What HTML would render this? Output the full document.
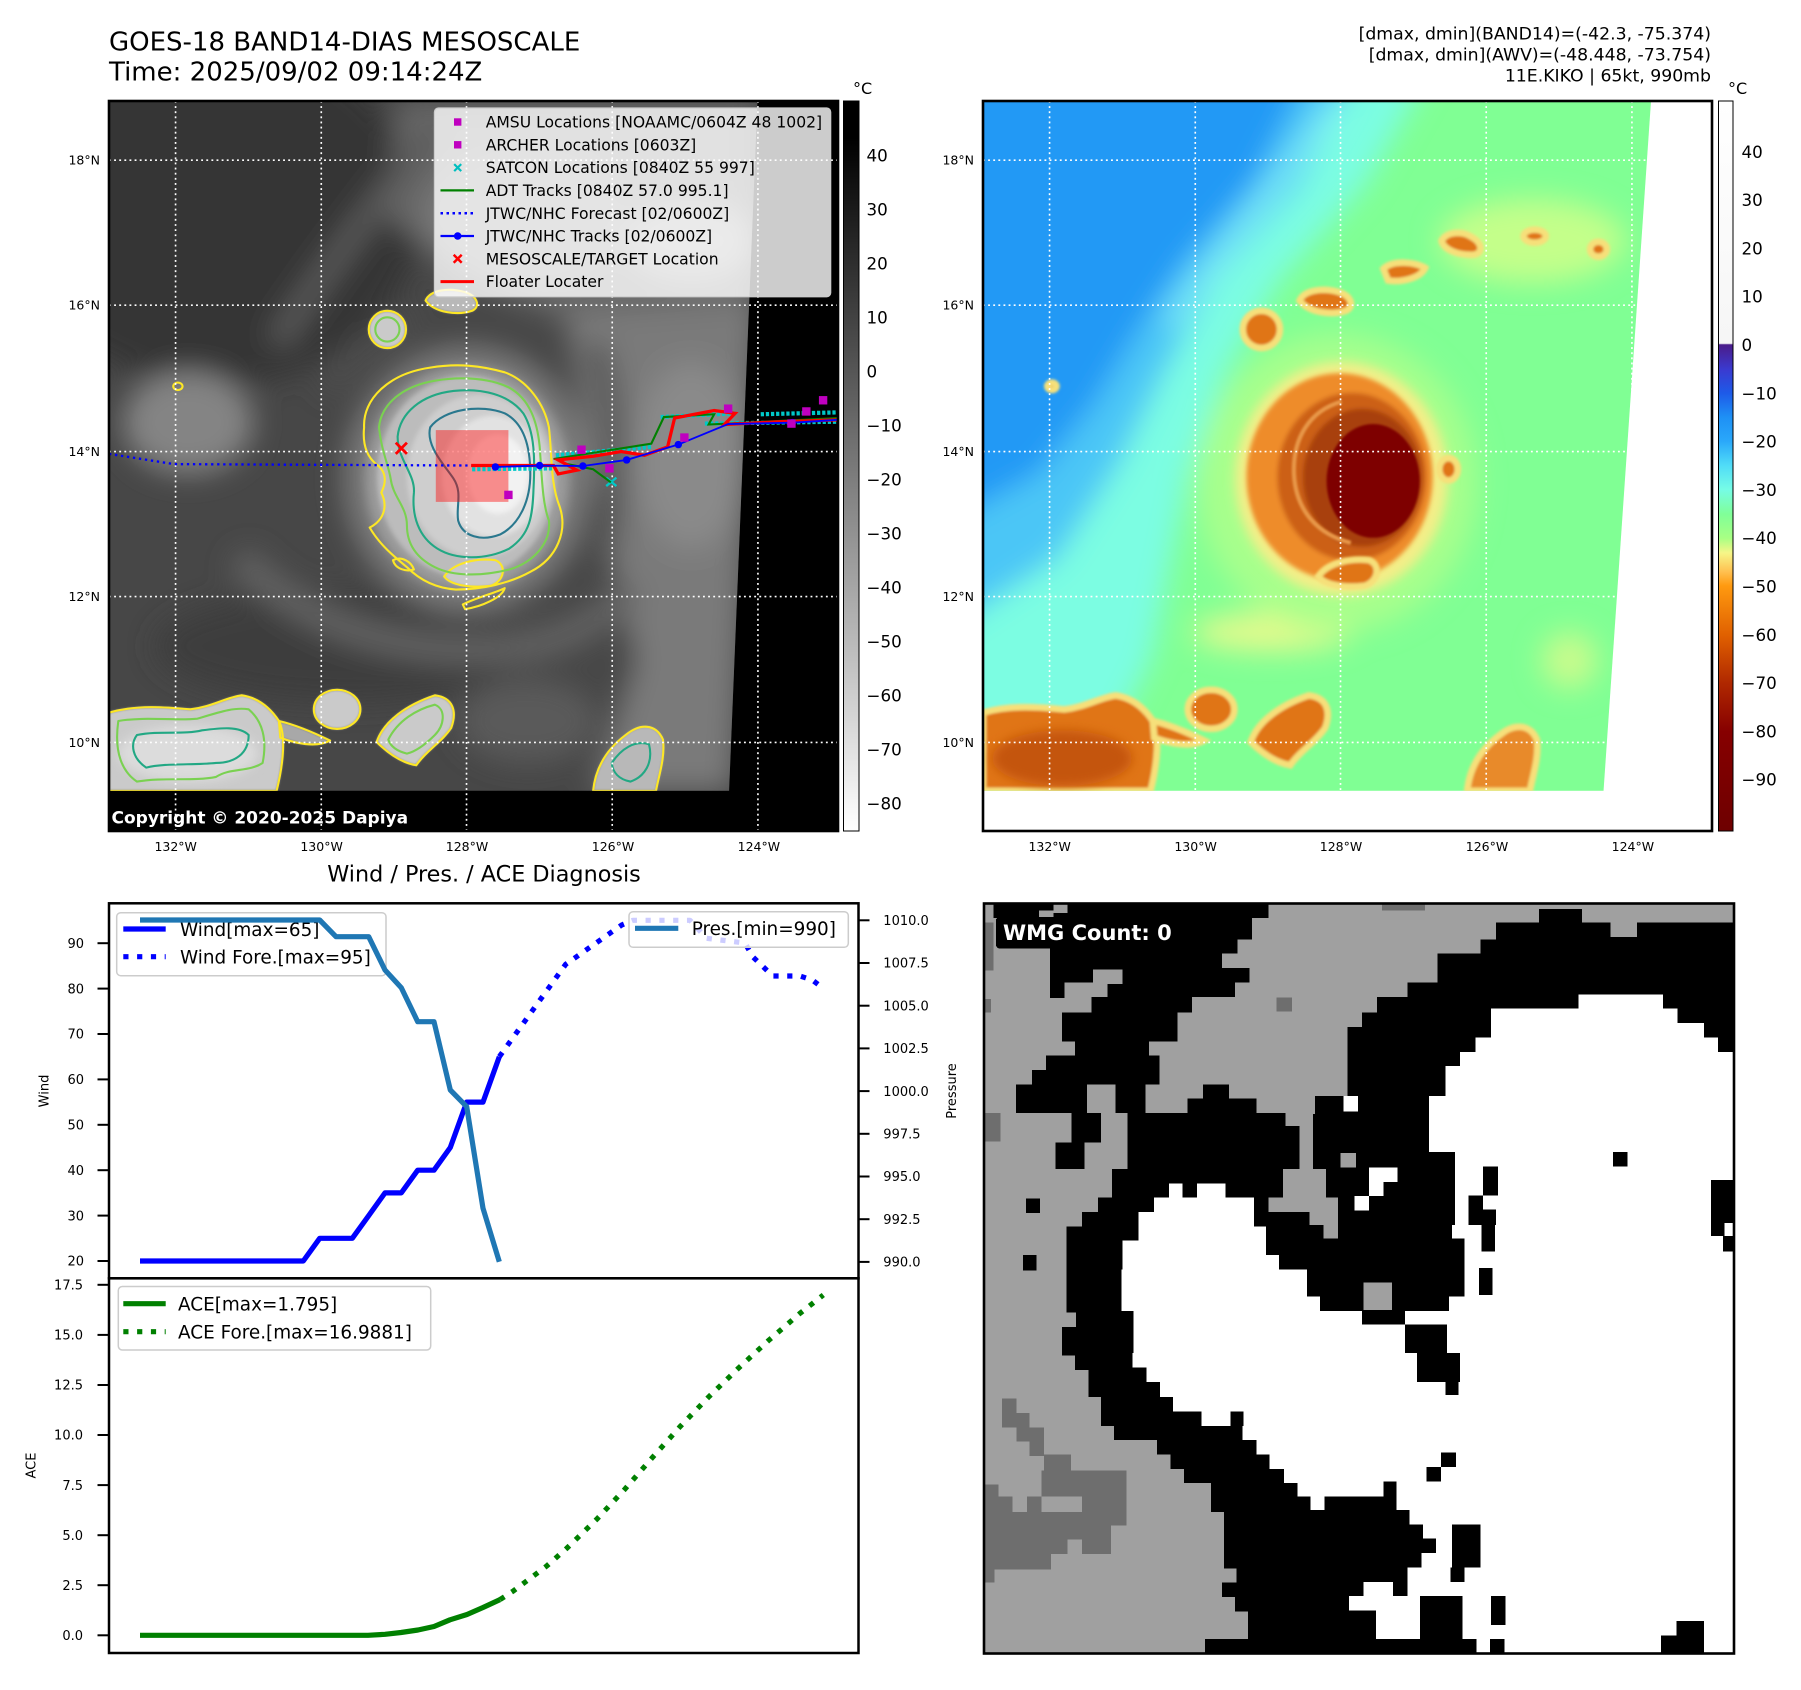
<!DOCTYPE html>
<html><head><meta charset="utf-8">
<style>
html,body{margin:0;padding:0;background:#fff;}
svg{display:block;}
text{font-family:"DejaVu Sans","Liberation Sans",sans-serif;}
</style></head><body>
<svg width="1801" height="1690" viewBox="0 0 1801 1690" xmlns="http://www.w3.org/2000/svg" xmlns:xlink="http://www.w3.org/1999/xlink">
<defs>
<filter id="f30" x="-30%" y="-30%" width="160%" height="160%"><feGaussianBlur stdDeviation="30"/></filter>
<filter id="f12" x="-30%" y="-30%" width="160%" height="160%"><feGaussianBlur stdDeviation="12"/></filter>
<filter id="f5" x="-30%" y="-30%" width="160%" height="160%"><feGaussianBlur stdDeviation="5"/></filter>
<filter id="f3" x="-30%" y="-30%" width="160%" height="160%"><feGaussianBlur stdDeviation="3"/></filter>
<filter id="f2" x="-30%" y="-30%" width="160%" height="160%"><feGaussianBlur stdDeviation="2"/></filter>
<linearGradient id="gL" x1="0" y1="0" x2="0" y2="1">
<stop offset="0" stop-color="#000"/><stop offset="0.05" stop-color="#000"/><stop offset="1" stop-color="#fff"/>
</linearGradient>
<linearGradient id="gR" x1="0" y1="0" x2="0" y2="1">
<stop offset="0" stop-color="#ffffff"/><stop offset="0.332" stop-color="#f6f6f6"/>
<stop offset="0.334" stop-color="#4b1c8a"/><stop offset="0.368" stop-color="#3a3ad0"/>
<stop offset="0.40" stop-color="#1e5ae8"/><stop offset="0.433" stop-color="#1e90f5"/>
<stop offset="0.466" stop-color="#2aa8fa"/><stop offset="0.499" stop-color="#50dcf8"/>
<stop offset="0.532" stop-color="#76fce6"/><stop offset="0.566" stop-color="#80ff98"/>
<stop offset="0.599" stop-color="#a8ff84"/><stop offset="0.619" stop-color="#f6f688"/>
<stop offset="0.645" stop-color="#ffc050"/><stop offset="0.664" stop-color="#ff9a10"/>
<stop offset="0.732" stop-color="#e06000"/><stop offset="0.797" stop-color="#b02800"/>
<stop offset="0.864" stop-color="#860000"/><stop offset="1" stop-color="#6e0000"/>
</linearGradient>
<path id="k1" d="M 0,1312 C 60,1295 120,1300 175,1305 C 220,1300 250,1280 285,1275 C 320,1280 345,1300 365,1330 C 380,1360 375,1420 360,1480 L 0,1480 Z"/>
<path id="k2" d="M 365,1330 C 400,1338 440,1355 475,1372 C 445,1388 400,1378 368,1366 Z"/>
<path id="k3" d="M 440,1305 A 50,42 0 1 0 540,1305 A 50,42 0 1 0 440,1305 Z"/>
<path id="k4" d="M 575,1375 C 590,1330 640,1295 700,1275 C 740,1280 748,1310 735,1345 C 715,1375 680,1395 660,1425 C 630,1420 600,1400 575,1375 Z"/>
<path id="k5" d="M 1040,1480 C 1045,1430 1070,1390 1110,1360 C 1140,1335 1175,1335 1190,1370 C 1195,1410 1180,1450 1175,1480 Z"/>
<path id="k6" d="M 558,490 A 40,40 0 1 0 638,490 A 40,40 0 1 0 558,490 Z"/>
<path id="k7" d="M 680,428 C 690,405 730,400 765,410 C 790,418 800,440 780,450 C 750,460 700,455 680,428 Z"/>
<path id="k8" d="M 860,360 C 880,340 930,345 950,358 C 940,380 900,390 870,385 Z"/>
<path id="k9" d="M 985,300 C 995,280 1030,278 1050,292 C 1075,305 1075,330 1050,330 C 1020,330 990,320 985,300 Z"/>
<path id="k10" d="M 1161,290 A 24,14 0 1 0 1209,290 A 24,14 0 1 0 1161,290 Z"/>
<path id="k11" d="M 1304,318 A 18,16 0 1 0 1340,318 A 18,16 0 1 0 1304,318 Z"/>
<path id="k12" d="M 980,790 A 20,24 0 1 0 1020,790 A 20,24 0 1 0 980,790 Z"/>
<path id="k13" d="M 720,1020 C 740,990 790,980 830,985 C 855,995 850,1030 820,1040 C 780,1045 735,1040 720,1020 Z"/>
<path id="k14" d="M 138,612 A 10,8 0 1 0 158,612 A 10,8 0 1 0 138,612 Z"/>
</defs>

<rect x="0" y="0" width="1801" height="1690" fill="#fff"/>

<!-- Titles -->
<text x="109" y="50.7" font-size="26" fill="#000">GOES-18 BAND14-DIAS MESOSCALE</text>
<text x="109" y="80.7" font-size="26" fill="#000">Time: 2025/09/02 09:14:24Z</text>
<g font-size="17.3" text-anchor="end" fill="#000">
<text x="1711" y="39.5">[dmax, dmin](BAND14)=(-42.3, -75.374)</text>
<text x="1711" y="60.5">[dmax, dmin](AWV)=(-48.448, -73.754)</text>
<text x="1711" y="81.5">11E.KIKO | 65kt, 990mb</text>
</g>
<text x="853" y="94" font-size="16" fill="#000">°C</text>
<text x="1728" y="94" font-size="16" fill="#000">°C</text>

<!-- LEFT MAP -->
<svg x="109" y="101" width="729" height="730" viewBox="0 0 1566 1566" preserveAspectRatio="none">
<defs><clipPath id="cL"><polygon points="0,0 1393,0 1332,1480 0,1480"/></clipPath></defs>
<rect width="1566" height="1566" fill="#000"/>
<g clip-path="url(#cL)">
<rect width="1566" height="1566" fill="#474747"/>
<g filter="url(#f30)">
<ellipse cx="230" cy="240" rx="440" ry="370" fill="#343434"/>
<polygon points="620,0 1393,0 1393,470 1000,480 780,390 600,250" fill="#686868"/>
<ellipse cx="900" cy="250" rx="220" ry="150" fill="#7a7a7a"/>
<ellipse cx="1250" cy="300" rx="140" ry="80" fill="#9a9a9a"/>
<ellipse cx="170" cy="690" rx="140" ry="110" fill="#848484"/>
<polygon points="980,460 1393,430 1340,1480 1040,1480 1130,1200 1070,950" fill="#7a7a7a"/>
<ellipse cx="1250" cy="760" rx="120" ry="200" fill="#8a8a8a"/>
<ellipse cx="500" cy="1170" rx="400" ry="120" fill="#3c3c3c"/>
<ellipse cx="770" cy="810" rx="265" ry="285" fill="#7c7c7c"/>
<path d="M 360,520 C 450,380 560,240 700,60" stroke="#5a5a5a" stroke-width="50" fill="none"/>
<path d="M 280,980 C 420,1130 650,1200 900,1170 C 1000,1150 1080,1100 1120,1040" stroke="#646464" stroke-width="60" fill="none"/>
<ellipse cx="900" cy="1330" rx="150" ry="90" fill="#5a5a5a"/>
<path d="M 1040,520 C 1090,650 1100,820 1060,980" stroke="#555" stroke-width="50" fill="none"/>
<path d="M 470,620 C 520,540 580,500 650,470" stroke="#505050" stroke-width="40" fill="none"/>
</g>
<g filter="url(#f12)"><ellipse cx="770" cy="810" rx="218" ry="240" fill="#9c9c9c"/></g>
<g filter="url(#f5)">
<ellipse cx="768" cy="806" rx="192" ry="216" fill="#bcbcbc"/>
<ellipse cx="795" cy="805" rx="155" ry="175" fill="#cecece"/>
<ellipse cx="825" cy="805" rx="110" ry="130" fill="#e2e2e2"/>
<ellipse cx="835" cy="800" rx="65" ry="85" fill="#f2f2f2"/>
</g>
<g filter="url(#f3)" fill="#cacaca">
<use xlink:href="#k1"/><use xlink:href="#k2" fill="#a8a8a8"/><use xlink:href="#k3"/><use xlink:href="#k4"/><use xlink:href="#k5" fill="#b8b8b8"/>
<use xlink:href="#k6"/><use xlink:href="#k7" fill="#b8b8b8"/><use xlink:href="#k13"/>
</g>
<g filter="url(#f12)"><ellipse cx="170" cy="1400" rx="150" ry="60" fill="#dcdcdc"/></g>
<!-- contours -->
<g fill="none" stroke-width="4.5" stroke-linejoin="round">
<g stroke="#fde725">
<path d="M 548,700 C 545,640 600,585 690,572 C 750,562 800,568 850,582 C 900,600 935,650 945,700 C 952,760 948,820 968,870 C 985,920 965,980 905,1010 C 860,1035 800,1048 745,1048 C 700,1045 665,1025 640,1000 C 610,975 580,950 560,915 C 590,900 600,870 585,840 C 600,810 590,790 575,780 C 550,760 545,730 548,700 Z"/>
<use xlink:href="#k1"/><use xlink:href="#k2"/><use xlink:href="#k3"/><use xlink:href="#k4"/><use xlink:href="#k5"/>
<use xlink:href="#k6"/><use xlink:href="#k7"/><use xlink:href="#k13"/><use xlink:href="#k14"/>
<path d="M 610,985 C 630,975 650,990 655,1005 C 640,1010 615,1005 610,985 Z"/>
<path d="M 760,1080 C 790,1065 830,1055 850,1045 C 845,1065 800,1085 765,1090 Z"/>
</g>
<g stroke="#7ad151">
<path d="M 580,700 C 585,650 630,612 700,600 C 760,590 820,595 860,615 C 905,640 920,690 925,740 C 930,800 930,860 945,900 C 950,950 910,990 860,1005 C 800,1020 740,1020 700,1000 C 660,980 640,950 640,910 C 640,870 610,850 605,810 C 600,780 585,750 580,700 Z"/>
<path d="M 20,1330 C 80,1320 140,1330 190,1325 C 240,1310 270,1300 300,1305 C 330,1330 340,1370 330,1420 C 300,1440 260,1430 230,1450 C 180,1460 120,1450 60,1460 C 30,1440 10,1400 20,1330 Z"/>
<path d="M 572,490 A 26,26 0 1 0 624,490 A 26,26 0 1 0 572,490 Z"/>
<path d="M 600,1370 C 620,1330 660,1305 700,1295 C 725,1305 720,1340 700,1360 C 680,1380 660,1395 640,1400 C 620,1395 605,1385 600,1370 Z"/>
</g>
<g stroke="#22a884">
<path d="M 620,720 C 625,670 670,630 740,622 C 800,615 860,630 890,670 C 915,710 915,770 912,830 C 910,890 905,930 860,960 C 810,985 745,985 705,960 C 665,935 650,890 655,840 C 658,800 620,770 620,720 Z"/>
<path d="M 60,1360 C 110,1350 160,1360 200,1350 C 240,1345 280,1340 300,1360 C 300,1400 270,1420 230,1420 C 180,1425 120,1420 80,1430 C 50,1410 45,1380 60,1360 Z"/>
<path d="M 1080,1420 C 1100,1390 1130,1370 1160,1380 C 1170,1420 1150,1450 1120,1460 C 1095,1455 1082,1440 1080,1420 Z"/>
</g>
<g stroke="#2a788e">
<path d="M 690,700 C 720,660 800,650 850,670 C 890,690 905,740 905,800 C 905,860 880,910 840,930 C 800,945 760,935 750,900 C 745,870 760,840 740,810 C 720,780 680,740 690,700 Z"/>
</g>
</g>
</g>
<!-- grid -->
<g stroke="#fff" stroke-width="3.5" stroke-dasharray="4 7">
<line x1="143" y1="0" x2="143" y2="1566"/><line x1="456" y1="0" x2="456" y2="1566"/><line x1="768" y1="0" x2="768" y2="1566"/><line x1="1081" y1="0" x2="1081" y2="1566"/><line x1="1394" y1="0" x2="1394" y2="1566"/>
<line x1="0" y1="127" x2="1566" y2="127"/><line x1="0" y1="438" x2="1566" y2="438"/><line x1="0" y1="752" x2="1566" y2="752"/><line x1="0" y1="1063" x2="1566" y2="1063"/><line x1="0" y1="1376" x2="1566" y2="1376"/>
</g>
<!-- salmon target box -->
<rect x="702" y="706" width="156" height="154" fill="#ff0000" fill-opacity="0.42"/>
<!-- tracks -->
<path d="M 0,757 L 70,768 L 140,779 L 780,782" stroke="#0000ff" stroke-width="5" stroke-dasharray="5 8" fill="none"/>
<g stroke="#00c8c8" stroke-width="9" stroke-dasharray="7 4" fill="none">
<path d="M 780,790 L 960,788"/><path d="M 960,760 L 1165,742"/><path d="M 1185,678 L 1345,670"/><path d="M 1280,692 L 1566,688"/><path d="M 1400,672 L 1566,668"/>
</g>
<path d="M 1068,808 L 1090,826 M 1090,808 L 1068,826" stroke="#00c8c8" stroke-width="5"/>
<path d="M 955,768 L 1165,735 L 1192,678 L 1300,672 L 1288,694 L 1566,680" stroke="#008000" stroke-width="4.5" fill="none"/>
<path d="M 980,778 L 1040,790 L 1078,818" stroke="#008000" stroke-width="4.5" fill="none"/>
<path d="M 778,782 L 955,782 L 965,800 L 1005,792 L 965,770 L 1040,762 L 1100,752 L 1150,760 L 1200,742 L 1215,680 L 1300,664 L 1345,670 L 1322,694 L 1440,688 L 1566,684" stroke="#ff0000" stroke-width="7" fill="none" stroke-linejoin="miter"/>
<path d="M 830,785 L 925,782 L 1018,783 L 1112,770 L 1223,737 L 1330,693 L 1468,690 L 1566,684" stroke="#0000ff" stroke-width="4" fill="none"/>
<g fill="#0000ff"><circle cx="830" cy="785" r="8"/><circle cx="925" cy="782" r="8"/><circle cx="1018" cy="783" r="8"/><circle cx="1112" cy="770" r="8"/><circle cx="1223" cy="737" r="8"/><circle cx="1468" cy="690" r="8"/></g>
<g fill="#bf00bf">
<rect x="849" y="836" width="18" height="18"/><rect x="1006" y="739" width="18" height="18"/><rect x="1066" y="779" width="18" height="18"/><rect x="1227" y="713" width="18" height="18"/><rect x="1321" y="651" width="18" height="18"/><rect x="1457" y="683" width="18" height="18"/><rect x="1489" y="657" width="18" height="18"/><rect x="1525" y="633" width="18" height="18"/>
</g>
<path d="M 616,733 L 640,757 M 640,733 L 616,757" stroke="#ff0000" stroke-width="6"/>
</svg>
<rect x="109" y="101" width="729" height="730" fill="none" stroke="#000" stroke-width="2.6"/>

<!-- left legend -->
<rect x="434.4" y="108" width="396.3" height="188.8" rx="4" fill="#fff" fill-opacity="0.8" stroke="#cccccc" stroke-width="1.2"/>
<rect x="454" y="118.3" width="7.4" height="7.4" fill="#bf00bf"/>
<rect x="454" y="141.1" width="7.4" height="7.4" fill="#bf00bf"/>
<path d="M 454.2,164.1 L 461.2,171.1 M 461.2,164.1 L 454.2,171.1" stroke="#00bfbf" stroke-width="2.2"/>
<line x1="440.5" y1="190.4" x2="474" y2="190.4" stroke="#008000" stroke-width="2.2"/>
<line x1="440.5" y1="213.2" x2="474" y2="213.2" stroke="#0000ff" stroke-width="2.5" stroke-dasharray="2.5 3.5"/>
<line x1="440.5" y1="236" x2="474" y2="236" stroke="#0000ff" stroke-width="2.2"/>
<circle cx="457.7" cy="236" r="3.8" fill="#0000ff"/>
<path d="M 453.7,254.8 L 461.7,262.8 M 461.7,254.8 L 453.7,262.8" stroke="#ff0000" stroke-width="2.5"/>
<line x1="440.5" y1="281.6" x2="474" y2="281.6" stroke="#ff0000" stroke-width="3"/>
<g font-size="15.6" fill="#000">
<text x="485.7" y="127.6">AMSU Locations [NOAAMC/0604Z 48 1002]</text>
<text x="485.7" y="150.4">ARCHER Locations [0603Z]</text>
<text x="485.7" y="173.2">SATCON Locations [0840Z 55 997]</text>
<text x="485.7" y="196">ADT Tracks [0840Z 57.0 995.1]</text>
<text x="485.7" y="218.8">JTWC/NHC Forecast [02/0600Z]</text>
<text x="485.7" y="241.6">JTWC/NHC Tracks [02/0600Z]</text>
<text x="485.7" y="264.4">MESOSCALE/TARGET Location</text>
<text x="485.7" y="287.2">Floater Locater</text>
</g>
<text x="111.5" y="823.5" font-size="17" font-weight="bold" fill="#fff">Copyright © 2020-2025 Dapiya</text>

<!-- left colorbar -->
<rect x="843.5" y="101" width="15.5" height="730" fill="url(#gL)" stroke="#000" stroke-width="1"/>
<g font-size="16.7" fill="#000">
<text x="866.5" y="161.5">40</text><text x="866.5" y="215.5">30</text><text x="866.5" y="269.5">20</text><text x="866.5" y="323.5">10</text><text x="866.5" y="377.5">0</text>
<text x="866.5" y="431.5">−10</text><text x="866.5" y="485.5">−20</text><text x="866.5" y="539.5">−30</text><text x="866.5" y="593.5">−40</text><text x="866.5" y="647.5">−50</text><text x="866.5" y="701.5">−60</text><text x="866.5" y="755.5">−70</text><text x="866.5" y="809.5">−80</text>
</g>

<!-- RIGHT MAP -->
<svg x="983" y="101" width="729" height="730" viewBox="0 0 1566 1566" preserveAspectRatio="none">
<defs><clipPath id="cR"><polygon points="0,0 1435,0 1333,1480 0,1480"/></clipPath></defs>
<rect width="1566" height="1566" fill="#fff"/>
<g clip-path="url(#cR)">
<rect width="1566" height="1566" fill="#80ff94"/>
<g filter="url(#f30)">
<polygon points="-100,-100 980,-100 820,180 640,380 520,580 440,800 400,1000 360,1200 260,1400 -100,1560" fill="#7cfde2"/>
<polygon points="-100,-100 820,-100 680,180 500,380 390,580 290,780 160,980 -100,1150" fill="#4cc6f6"/>
<polygon points="-100,-100 720,-100 580,180 430,350 330,500 240,650 120,800 -100,920" fill="#2299f5"/>
<path d="M 760,0 C 640,180 500,330 400,480" stroke="#8cf4f8" stroke-width="40" fill="none" opacity="0.7"/>
<ellipse cx="1180" cy="300" rx="200" ry="90" fill="#c4ff8a"/>
<ellipse cx="620" cy="1140" rx="170" ry="40" fill="#e6fa8c"/>
<ellipse cx="1260" cy="1200" rx="60" ry="60" fill="#c8fc8c"/>
<ellipse cx="760" cy="820" rx="300" ry="320" fill="#a8ff8c"/>
</g>
<g filter="url(#f12)"><ellipse cx="770" cy="810" rx="228" ry="250" fill="#f4ee88"/></g>
<g filter="url(#f5)">
<ellipse cx="766" cy="806" rx="200" ry="222" fill="#ee8c2c"/>
<ellipse cx="792" cy="806" rx="160" ry="180" fill="#cc6018"/>
<ellipse cx="815" cy="808" rx="128" ry="148" fill="#a8400e"/>
</g>
<g filter="url(#f2)"><ellipse cx="838" cy="815" rx="100" ry="122" fill="#7e0000"/></g>
<path d="M 770,645 C 700,665 665,725 668,800 C 672,880 720,930 790,948" stroke="#e89848" stroke-width="9" fill="none" filter="url(#f2)"/>
<g filter="url(#f3)" fill="#e07414" stroke="#f6e07a" stroke-width="14">
<use xlink:href="#k1"/><use xlink:href="#k2"/><use xlink:href="#k3"/><use xlink:href="#k4"/><use xlink:href="#k5" fill="#e88a2a"/>
<use xlink:href="#k6"/><use xlink:href="#k7"/><use xlink:href="#k8"/><use xlink:href="#k9"/><use xlink:href="#k10"/><use xlink:href="#k11"/><use xlink:href="#k12"/><use xlink:href="#k13"/><use xlink:href="#k14"/>
</g>
<g filter="url(#f12)"><ellipse cx="170" cy="1410" rx="150" ry="60" fill="#c45410"/></g>
</g>
<g stroke="#fff" stroke-width="3.5" stroke-dasharray="4 7">
<line x1="143" y1="0" x2="143" y2="1566"/><line x1="456" y1="0" x2="456" y2="1566"/><line x1="768" y1="0" x2="768" y2="1566"/><line x1="1081" y1="0" x2="1081" y2="1566"/><line x1="1394" y1="0" x2="1394" y2="1566"/>
<line x1="0" y1="127" x2="1566" y2="127"/><line x1="0" y1="438" x2="1566" y2="438"/><line x1="0" y1="752" x2="1566" y2="752"/><line x1="0" y1="1063" x2="1566" y2="1063"/><line x1="0" y1="1376" x2="1566" y2="1376"/>
</g>
</svg>
<rect x="983" y="101" width="729" height="730" fill="none" stroke="#000" stroke-width="2.6"/>

<!-- right colorbar -->
<rect x="1718.5" y="101" width="14.5" height="730" fill="url(#gR)" stroke="#000" stroke-width="1"/>
<g font-size="16.7" fill="#000">
<text x="1741.5" y="157.8">40</text><text x="1741.5" y="206.1">30</text><text x="1741.5" y="254.4">20</text><text x="1741.5" y="302.7">10</text><text x="1741.5" y="351">0</text>
<text x="1741.5" y="399.3">−10</text><text x="1741.5" y="447.6">−20</text><text x="1741.5" y="495.9">−30</text><text x="1741.5" y="544.2">−40</text><text x="1741.5" y="592.5">−50</text><text x="1741.5" y="640.8">−60</text><text x="1741.5" y="689.1">−70</text><text x="1741.5" y="737.4">−80</text><text x="1741.5" y="785.7">−90</text>
</g>

<!-- map tick labels -->
<g font-size="12.5" fill="#000" text-anchor="end">
<text x="100" y="164.7">18°N</text><text x="100" y="309.7">16°N</text><text x="100" y="456.1">14°N</text><text x="100" y="601.1">12°N</text><text x="100" y="747">10°N</text>
<text x="974" y="164.7">18°N</text><text x="974" y="309.7">16°N</text><text x="974" y="456.1">14°N</text><text x="974" y="601.1">12°N</text><text x="974" y="747">10°N</text>
</g>
<g font-size="12.5" fill="#000" text-anchor="middle">
<text x="175.7" y="851">132°W</text><text x="321.6" y="851">130°W</text><text x="467" y="851">128°W</text><text x="613" y="851">126°W</text><text x="758.9" y="851">124°W</text>
<text x="1049.7" y="851">132°W</text><text x="1195.6" y="851">130°W</text><text x="1341" y="851">128°W</text><text x="1487" y="851">126°W</text><text x="1632.9" y="851">124°W</text>
</g>

<!-- WIND / PRES / ACE -->
<text x="484" y="881.5" font-size="22.3" text-anchor="middle" fill="#000">Wind / Pres. / ACE Diagnosis</text>

<!-- wind lines -->
<polyline points="140,1261 303.3,1261 319.7,1238.3 352.3,1238.3 368.7,1215.6 385,1192.9 401.3,1192.9 417.7,1170.2 434,1170.2 450.3,1147.5 466.7,1102.1 483,1102.1 499.3,1056.7" fill="none" stroke="#0000ff" stroke-width="5.2" stroke-linejoin="round"/>
<polyline points="499.3,1056.7 565.7,964.3 621.7,925 633,920.3 690,920.3 706.7,938.3 745,943 752.7,956.7 772.7,976 800,976 812.3,980 823.3,988.3" fill="none" stroke="#0000ff" stroke-width="5.2" stroke-dasharray="5.2 8.6" stroke-linejoin="round"/>
<!-- wind legend -->
<rect x="116.7" y="912.7" width="269.3" height="63" rx="4" fill="#fff" fill-opacity="0.8" stroke="#cccccc" stroke-width="1.5"/>
<line x1="123.3" y1="929" x2="165.7" y2="929" stroke="#0000ff" stroke-width="5.2"/>
<line x1="123.3" y1="956.7" x2="165.7" y2="956.7" stroke="#0000ff" stroke-width="5.2" stroke-dasharray="5.2 8.6"/>
<text x="180" y="935.8" font-size="18.4" fill="#000">Wind[max=65]</text>
<text x="180" y="963.5" font-size="18.4" fill="#000">Wind Fore.[max=95]</text>
<!-- pressure line -->
<polyline points="140,920 319.7,920 336,936.7 368.7,936.7 385,970 401.3,987.7 417.7,1021.7 434,1021.7 450.3,1090 466.7,1106.7 483,1208.3 499.3,1261.7" fill="none" stroke="#1f77b4" stroke-width="5.2" stroke-linejoin="round"/>
<!-- pres legend -->
<rect x="629" y="911.7" width="219.3" height="35.6" rx="4" fill="#fff" fill-opacity="0.8" stroke="#cccccc" stroke-width="1.5"/>
<line x1="635" y1="928.3" x2="678.3" y2="928.3" stroke="#1f77b4" stroke-width="5.2"/>
<text x="691.7" y="935" font-size="18.4" fill="#000">Pres.[min=990]</text>

<rect x="109" y="903.3" width="749.5" height="375" fill="none" stroke="#000" stroke-width="2.5"/>
<!-- wind ticks -->
<g stroke="#000" stroke-width="2">
<line x1="97.5" y1="943.2" x2="108" y2="943.2"/><line x1="97.5" y1="988.6" x2="108" y2="988.6"/><line x1="97.5" y1="1034" x2="108" y2="1034"/><line x1="97.5" y1="1079.4" x2="108" y2="1079.4"/><line x1="97.5" y1="1124.8" x2="108" y2="1124.8"/><line x1="97.5" y1="1170.2" x2="108" y2="1170.2"/><line x1="97.5" y1="1215.6" x2="108" y2="1215.6"/><line x1="97.5" y1="1261" x2="108" y2="1261"/>
<line x1="859" y1="920.3" x2="869.5" y2="920.3"/><line x1="859" y1="963" x2="869.5" y2="963"/><line x1="859" y1="1005.7" x2="869.5" y2="1005.7"/><line x1="859" y1="1048.4" x2="869.5" y2="1048.4"/><line x1="859" y1="1091.1" x2="869.5" y2="1091.1"/><line x1="859" y1="1133.8" x2="869.5" y2="1133.8"/><line x1="859" y1="1176.5" x2="869.5" y2="1176.5"/><line x1="859" y1="1219.2" x2="869.5" y2="1219.2"/><line x1="859" y1="1261.9" x2="869.5" y2="1261.9"/>
</g>
<g font-size="13" fill="#000" text-anchor="end">
<text x="84" y="947.9">90</text><text x="84" y="993.3">80</text><text x="84" y="1038.7">70</text><text x="84" y="1084.1">60</text><text x="84" y="1129.5">50</text><text x="84" y="1174.9">40</text><text x="84" y="1220.3">30</text><text x="84" y="1265.7">20</text>
</g>
<g font-size="13" fill="#000">
<text x="883.3" y="925">1010.0</text><text x="883.3" y="967.7">1007.5</text><text x="883.3" y="1010.4">1005.0</text><text x="883.3" y="1053.1">1002.5</text><text x="883.3" y="1095.8">1000.0</text><text x="883.3" y="1138.5">997.5</text><text x="883.3" y="1181.2">995.0</text><text x="883.3" y="1223.9">992.5</text><text x="883.3" y="1266.6">990.0</text>
</g>
<text transform="translate(48.5,1091) rotate(-90)" font-size="13" text-anchor="middle" fill="#000">Wind</text>
<text transform="translate(956,1091) rotate(-90)" font-size="13" text-anchor="middle" fill="#000">Pressure</text>

<!-- ACE -->
<polyline points="140,1635.3 368,1635.3 385,1634.3 401,1632.5 418,1630 434,1626.5 450,1619.8 467,1614.5 483,1607.5 500,1599.6" fill="none" stroke="#008000" stroke-width="5.2" stroke-linejoin="round"/>
<polyline points="500,1599.6 513.3,1591 546.7,1566 566.7,1548.3 596.7,1519.3 625,1489 651.7,1458.3 680,1426.7 708.3,1397.3 738.3,1368.3 768.3,1340.7 800,1313.3 823.3,1295" fill="none" stroke="#008000" stroke-width="5.2" stroke-dasharray="5.2 8.6"/>
<rect x="118.3" y="1286.5" width="312.4" height="63.5" rx="4" fill="#fff" fill-opacity="0.8" stroke="#cccccc" stroke-width="1.5"/>
<line x1="123.3" y1="1303.7" x2="165.7" y2="1303.7" stroke="#008000" stroke-width="5.2"/>
<line x1="123.3" y1="1331.7" x2="165.7" y2="1331.7" stroke="#008000" stroke-width="5.2" stroke-dasharray="5.2 8.6"/>
<text x="178" y="1310.3" font-size="18.4" fill="#000">ACE[max=1.795]</text>
<text x="178" y="1338.3" font-size="18.4" fill="#000">ACE Fore.[max=16.9881]</text>
<rect x="109" y="1278.3" width="749.5" height="374.7" fill="none" stroke="#000" stroke-width="2.5"/>
<g stroke="#000" stroke-width="2">
<line x1="97.5" y1="1635.3" x2="108" y2="1635.3"/><line x1="97.5" y1="1585.2" x2="108" y2="1585.2"/><line x1="97.5" y1="1535.2" x2="108" y2="1535.2"/><line x1="97.5" y1="1485.1" x2="108" y2="1485.1"/><line x1="97.5" y1="1435" x2="108" y2="1435"/><line x1="97.5" y1="1385" x2="108" y2="1385"/><line x1="97.5" y1="1334.9" x2="108" y2="1334.9"/><line x1="97.5" y1="1284.8" x2="108" y2="1284.8"/>
</g>
<g font-size="13" fill="#000" text-anchor="end">
<text x="83" y="1640">0.0</text><text x="83" y="1589.9">2.5</text><text x="83" y="1539.9">5.0</text><text x="83" y="1489.8">7.5</text><text x="83" y="1439.7">10.0</text><text x="83" y="1389.7">12.5</text><text x="83" y="1339.6">15.0</text><text x="83" y="1289.5">17.5</text>
</g>
<text transform="translate(35.5,1465.5) rotate(-90)" font-size="13" text-anchor="middle" fill="#000">ACE</text>

<!-- WMG -->
<svg x="984" y="903.5" width="750" height="750" viewBox="0 0 1568 1568" preserveAspectRatio="none" shape-rendering="crispEdges">
<rect width="1568" height="1568" fill="#a0a0a0"/>
<g fill="#6e6e6e">
<rect x="0" y="40" width="20" height="100"/><rect x="0" y="200" width="15" height="28"/><rect x="0" y="438" width="35" height="60"/>
<rect x="832" y="0" width="90" height="15"/><rect x="612" y="196" width="32" height="30"/>
<rect x="38" y="1035" width="30" height="60"/><rect x="68" y="1065" width="27" height="60"/><rect x="95" y="1095" width="30" height="60"/><rect x="125" y="1152" width="57" height="33"/>
<polygon points="0,1215 30,1215 30,1240 120,1240 120,1185 298,1185 298,1300 265,1300 265,1360 140,1360 140,1392 22,1392 22,1420 0,1420"/>
</g>
<g fill="#a0a0a0"><rect x="60" y="1240" width="30" height="32"/><rect x="120" y="1240" width="85" height="32"/><rect x="175" y="1330" width="30" height="30"/></g>
<g fill="#000">
<rect x="20" y="0" width="575" height="30"/>
<rect x="138" y="30" width="422" height="45"/>
<rect x="138" y="75" width="392" height="30"/>
<rect x="138" y="105" width="360" height="30"/>
<rect x="138" y="135" width="417" height="30"/>
<rect x="138" y="165" width="30" height="33"/>
<rect x="258" y="165" width="267" height="30"/>
<rect x="225" y="195" width="210" height="33"/>
<rect x="163" y="228" width="242" height="60"/>
<rect x="190" y="288" width="155" height="30"/>
<rect x="130" y="318" width="237" height="30"/>
<rect x="100" y="348" width="267" height="30"/>
<rect x="67" y="378" width="148" height="60"/>
<rect x="275" y="378" width="63" height="60"/>
<rect x="183" y="438" width="62" height="62"/>
<rect x="150" y="500" width="60" height="55"/>
<rect x="25" y="28" width="370" height="66" rx="8"/>
<rect x="88" y="617" width="29" height="30"/><rect x="82" y="735" width="28" height="32"/>
<polygon points="300,438 425,438 425,408 458,408 458,378 512,378 512,408 570,408 570,438 630,438 630,465 660,465 660,555 625,555 625,615 595,615 595,645 680,645 680,672 710,672 710,700 740,700 740,615 715,615 715,555 688,555 688,440 692,440 692,402 760,402 760,258 790,258 790,228 822,228 822,195 885,195 885,165 948,165 948,105 1038,105 1038,75 1070,75 1070,40 1160,40 1160,12 1250,12 1250,40 1568,40 1568,1568 462,1568 462,1538 552,1538 552,1480 525,1480 525,1450 498,1450 498,1420 528,1420 528,1390 502,1390 502,1272 475,1272 475,1212 418,1212 418,1182 390,1182 390,1152 362,1152 362,1122 272,1122 272,1092 245,1092 245,1032 218,1032 218,975 190,975 190,945 163,945 163,885 192,885 192,855 172,855 172,675 205,675 205,645 238,645 238,615 268,615 268,555 300,555"/>
</g>
<g fill="#a0a0a0">
<rect x="115" y="15" width="30" height="13"/><rect x="145" y="0" width="30" height="20"/><rect x="228" y="138" width="62" height="30"/>
<rect x="1310" y="40" width="55" height="30"/>
<rect x="745" y="522" width="33" height="30"/><rect x="793" y="792" width="60" height="58"/>
</g>
<polygon fill="#fff" points="1243,190 1420,190 1420,220 1450,220 1450,250 1505,250 1505,280 1535,280 1535,310 1568,310 1568,1568 1030,1568 1030,1538 820,1538 820,1478 763,1478 763,1448 793,1448 793,1418 885,1418 885,1388 915,1388 915,1358 945,1358 945,1328 918,1328 918,1298 890,1298 890,1268 862,1268 862,1208 835,1208 835,1240 712,1240 712,1268 683,1268 683,1240 655,1240 655,1212 627,1212 627,1182 597,1182 597,1152 570,1152 570,1122 540,1122 540,1092 455,1092 455,1062 395,1062 395,1032 368,1032 368,1000 340,1000 340,970 310,970 310,940 313,940 313,852 287,852 287,765 290,765 290,705 323,705 323,645 355,645 355,615 387,615 387,585 415,585 415,615 445,615 445,585 505,585 505,615 565,615 565,675 590,675 590,735 617,735 617,765 675,765 675,822 702,822 702,852 790,852 790,880 880,880 880,852 972,852 972,822 1005,822 1005,700 978,700 978,672 985,672 985,520 930,520 930,402 965,402 965,340 995,340 995,310 1028,310 1028,280 1060,280 1060,220 1243,220"/>
<g fill="#000">
<rect x="1315" y="520" width="30" height="30"/>
<rect x="1520" y="578" width="48" height="90"/><rect x="1520" y="668" width="28" height="27"/><rect x="1545" y="695" width="23" height="33"/>
<rect x="1043" y="550" width="32" height="60"/><rect x="1013" y="610" width="30" height="30"/><rect x="1013" y="640" width="57" height="32"/><rect x="1040" y="672" width="28" height="56"/><rect x="1035" y="762" width="28" height="56"/>
<rect x="880" y="880" width="88" height="60"/><rect x="905" y="940" width="90" height="60"/><rect x="965" y="1000" width="27" height="28"/>
<rect x="955" y="1148" width="32" height="30"/><rect x="925" y="1178" width="30" height="30"/>
<rect x="515" y="1062" width="28" height="30"/>
<rect x="978" y="1298" width="60" height="90"/><rect x="975" y="1388" width="30" height="30"/>
<rect x="855" y="1418" width="30" height="30"/>
<rect x="912" y="1448" width="88" height="90"/><rect x="1060" y="1448" width="30" height="60"/>
<rect x="1058" y="1538" width="30" height="30"/>
<rect x="1448" y="1500" width="57" height="30"/><rect x="1415" y="1530" width="90" height="38"/>
</g>
<g fill="#fff">
<rect x="752" y="402" width="30" height="33"/><rect x="805" y="552" width="60" height="30"/><rect x="805" y="582" width="30" height="30"/><rect x="775" y="612" width="30" height="30"/>
</g>
</svg>
<rect x="984" y="903.5" width="750" height="750" fill="none" stroke="#000" stroke-width="2.6"/>
<text x="1003" y="940" font-size="21" font-weight="bold" fill="#fff">WMG Count: 0</text>
</svg>
</body></html>
